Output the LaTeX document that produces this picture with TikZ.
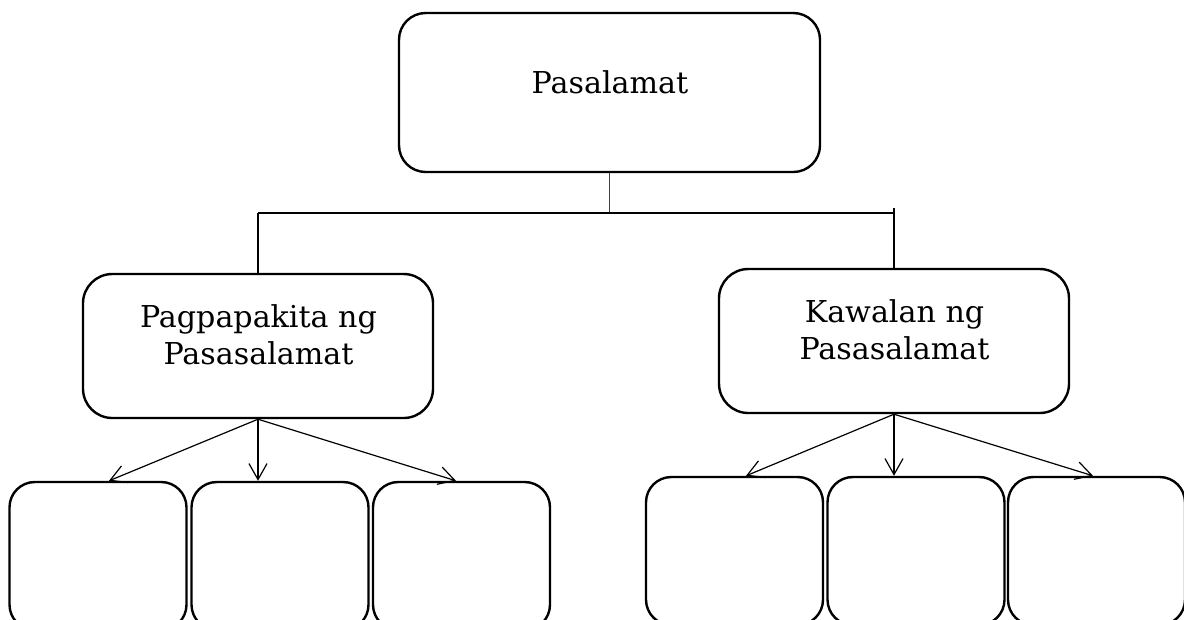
\documentclass[tikz,border=0pt]{standalone}
\usepackage{fontspec}
\setmainfont{DejaVu Serif}
\usetikzlibrary{arrows.meta,calc}
\tikzset{
  box/.style={draw=black, line width=1.8pt, rectangle, inner sep=0pt},
  topbox/.style={box, minimum width=315.75pt, minimum height=119.25pt, rounded corners=20pt},
  midbox/.style={box, minimum width=262.5pt, minimum height=108pt, rounded corners=22pt},
  leafbox/.style={box, minimum width=132.75pt, minimum height=111pt, rounded corners=19pt},
  lbl/.style={inner sep=0pt, anchor=base, font=\fontsize{22.6pt}{27.75pt}\selectfont},
  link/.style={line width=1pt},
  barlink/.style={line width=1.6pt},
  arr/.style={line width=0.9pt, -{Straight Barb[length=12pt,width=13.5pt]}}
}
\begin{document}
\begin{tikzpicture}[x=0.75pt,y=-0.75pt]
\path[use as bounding box] (0,0) rectangle (1184,619);
\clip (0,0) rectangle (1184,619);
% top
\node[topbox] (top) at (609.5,92.5) {};
\node[lbl] (ttop) at (610,93) {Pasalamat};
% middle
\node[midbox] (left) at (258,346) {};
\node[lbl] (tl1) at (258.5,327) {Pagpapakita ng};
\node[lbl] (tl2) at (258.5,364) {Pasasalamat};
\node[midbox] (right) at (894,341) {};
\node[lbl] (tr1) at (894.5,322) {Kawalan ng};
\node[lbl] (tr2) at (894.5,359) {Pasasalamat};
% leaves
\node[leafbox] (l1) at (98,556) {};
\node[leafbox] (l2) at (280,556) {};
\node[leafbox] (l3) at (461.5,556) {};
\node[leafbox] (r1) at (734.5,551) {};
\node[leafbox] (r2) at (916,551) {};
\node[leafbox] (r3) at (1096.5,551) {};
% connectors
\coordinate (barL) at (258,213);
\coordinate (barR) at (894,213);
\coordinate (barM) at (609.5,213);
\coordinate (tick) at (894,208);
\draw[link, draw=black!75] (top.south) -- (barM);
\draw[barlink] (barL) -- (barR);
\draw[link] (barL) -- (left.north);
\draw[link] (tick) -- (right.north);
\draw[arr] (left.south) -- ($(l1.north)+(11,0)$);
\draw[arr] (left.south) -- ($(l2.north)+(-22,0)$);
\draw[arr] (left.south) -- ($(l3.north)+(-5.5,0)$);
\draw[arr] (right.south) -- ($(r1.north)+(11.5,0)$);
\draw[arr] (right.south) -- ($(r2.north)+(-22,0)$);
\draw[arr] (right.south) -- ($(r3.north)+(-3.5,0)$);
\end{tikzpicture}
\end{document}
